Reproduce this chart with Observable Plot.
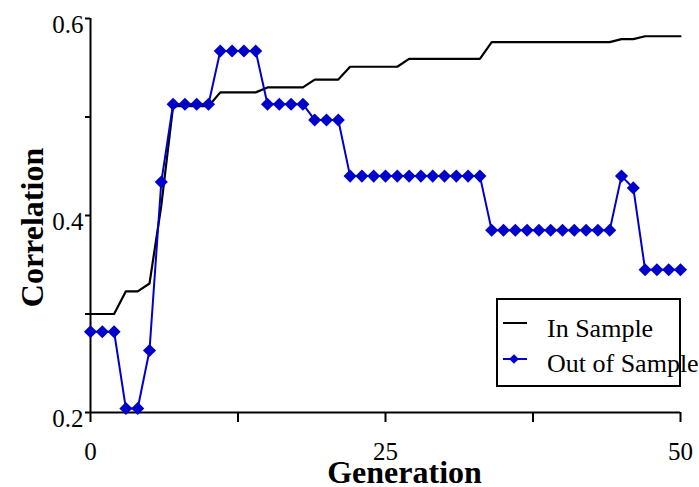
<!DOCTYPE html>
<html><head><meta charset="utf-8">
<script src="https://cdn.jsdelivr.net/npm/d3@7"></script>
<script src="https://cdn.jsdelivr.net/npm/@observablehq/plot@0.6"></script>
<style>
html,body{margin:0;padding:0;background:#fff;overflow:hidden;}
#wrap{position:relative;width:699px;height:487px;overflow:hidden;background:#fff;}
</style></head><body><div id="wrap"></div>
<script>
const generations = [0,1,2,3,4,5,6,7,8,9,10,11,12,13,14,15,16,17,18,19,20,21,22,23,24,25,26,27,28,29,30,31,32,33,34,35,36,37,38,39,40,41,42,43,44,45,46,47,48,49,50];
const inSample = [
  0.300,0.300,0.300,
  0.323,0.323,
  0.331,
  0.410,
  0.511,0.511,0.511,0.511,
  0.525,0.525,0.525,0.525,
  0.530,0.530,0.530,0.530,
  0.538,0.538,0.538,
  0.551,0.551,0.551,0.551,0.551,
  0.559,0.559,0.559,0.559,0.559,0.559,0.559,
  0.576,0.576,0.576,0.576,0.576,0.576,0.576,0.576,0.576,0.576,0.576,
  0.579,0.579,
  0.582,0.582,0.582,0.582
];
const outSample = [
  0.282,0.282,0.282,
  0.204,0.204,
  0.263,
  0.434,
  0.513,0.513,0.513,0.513,
  0.567,0.567,0.567,0.567,
  0.513,0.513,0.513,0.513,
  0.497,0.497,0.497,
  0.440,0.440,0.440,0.440,0.440,0.440,0.440,0.440,0.440,0.440,0.440,0.440,
  0.385,0.385,0.385,0.385,0.385,0.385,0.385,0.385,0.385,0.385,0.385,
  0.440,
  0.428,
  0.345,0.345,0.345,0.345
];
const xTicks = [0, 12.5, 25, 37.5, 50];
const xTickLabels = ["0", "", "25", "", "50"];
const yTicks = [0.2, 0.3, 0.4, 0.5, 0.6];
const yTickLabels = ["0.2", "", "0.4", "", "0.6"];
const seriesNames = ["In Sample", "Out of Sample"];
const seriesColors = ["#000000", "#0000cc"];
const xTitle = "Generation";
const yTitle = "Correlation";

const dataIn = generations.map((g, i) => ({g, v: inSample[i]}));
const dataOut = generations.map((g, i) => ({g, v: outSample[i]}));
const font = "'Liberation Serif','Times New Roman',serif";

const chart = Plot.plot({
  width: 699, height: 487,
  marginLeft: 90, marginRight: 19, marginTop: 18, marginBottom: 75,
  style: {fontFamily: font, background: "#fff", color: "#000", overflow: "visible"},
  x: {domain: [0, 50]},
  y: {domain: [0.2, 0.6]},
  marks: [
    Plot.axisX({ticks: xTicks, tickFormat: d => xTickLabels[xTicks.indexOf(d)], tickSize: 10, tickPadding: 20, fontSize: 25, strokeWidth: 2, label: null}),
    Plot.axisY({ticks: yTicks, tickFormat: () => "", tickSize: 5, strokeWidth: 2, label: null}),
    Plot.axisY({ticks: yTicks, tickFormat: d => yTickLabels[yTicks.indexOf(d)], tickSize: 0, tickPadding: 7, dy: 6, fontSize: 25, label: null}),
    Plot.ruleX([0], {y1: 0.2, y2: 0.6, strokeWidth: 2}),
    Plot.ruleY([0.2], {strokeWidth: 2}),
    Plot.line(dataIn, {x: "g", y: "v", stroke: seriesColors[0], strokeWidth: 2.2}),
    Plot.line(dataOut, {x: "g", y: "v", stroke: seriesColors[1], strokeWidth: 2}),
    Plot.dot(dataOut, {x: "g", y: "v", symbol: "diamond2", r: 5.9, fill: seriesColors[1], stroke: "none"}),
    Plot.text([yTitle], {frameAnchor: "left", textAnchor: "middle", lineAnchor: "middle", rotate: -90, dx: -58, dy: 12, fontSize: 32, fontWeight: "bold", fill: "#000"}),
    Plot.text([xTitle], {frameAnchor: "bottom", textAnchor: "middle", lineAnchor: "middle", dx: 19, dy: 60, fontSize: 32, fontWeight: "bold", fill: "#000"})
  ]
});
document.getElementById("wrap").appendChild(chart);

// legend overlay
const leg = d3.select("#wrap").append("svg")
  .attr("width", 204).attr("height", 92)
  .style("position", "absolute").style("left", "495px").style("top", "297px")
  .style("overflow", "visible").style("font-family", font);
leg.append("rect").attr("x", 2).attr("y", 2).attr("width", 183).attr("height", 87)
  .attr("fill", "#fff").attr("stroke", "#000").attr("stroke-width", 2);
const rows = [
  {name: seriesNames[0], color: seriesColors[0], ly: 26, ty: 40, marker: false},
  {name: seriesNames[1], color: seriesColors[1], ly: 62, ty: 75, marker: true}
];
rows.forEach(r => {
  leg.append("line").attr("x1", 8).attr("x2", 32).attr("y1", r.ly).attr("y2", r.ly)
    .attr("stroke", r.color).attr("stroke-width", 2);
  if (r.marker) {
    leg.append("path").attr("d", d3.symbol(d3.symbolDiamond2, 60)())
      .attr("transform", `translate(19,${r.ly})`).attr("fill", r.color);
  }
  leg.append("text").attr("x", 52).attr("y", r.ty).attr("font-size", 26).attr("fill", "#000").text(r.name);
});
</script></body></html>
